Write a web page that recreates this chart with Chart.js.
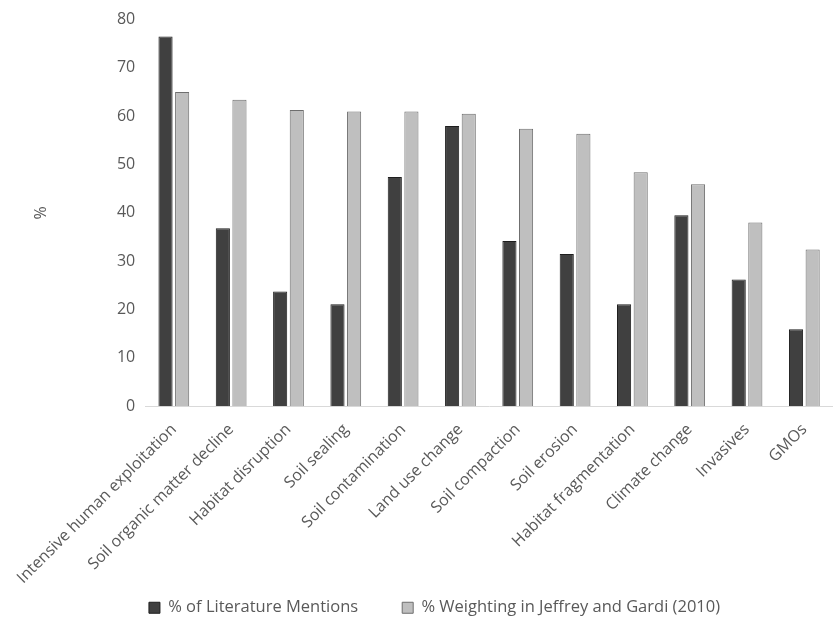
<!DOCTYPE html>
<html lang="en">
<head>
<meta charset="UTF-8">
<title>Soil threats</title>
<script src="https://cdn.jsdelivr.net/npm/chart.js"></script>
<style>
  body { margin: 0; background: #fff; }
  .wrap { width: 833px; height: 626px; }
</style>
</head>
<body>
<div class="wrap"><canvas id="myChart"></canvas></div>
<script>
  var categorias = ['Intensive human exploitation', 'Soil organic matter decline', 'Habitat disruption',
    'Soil sealing', 'Soil contamination', 'Land use change', 'Soil compaction', 'Soil erosion',
    'Habitat fragmentation', 'Climate change', 'Invasives', 'GMOs'];
  var mencoes = [76.5, 36.8, 23.7, 21.1, 47.4, 58.0, 34.2, 31.5, 21.1, 39.5, 26.2, 15.9];
  var pesos = [65.0, 63.4, 61.3, 61.0, 61.0, 60.5, 57.4, 56.4, 48.4, 45.9, 38.0, 32.4];
  var yTicks = [0, 10, 20, 30, 40, 50, 60, 70, 80];

  var cinza = '#595959';
  var fonte = '"Open Sans", "DejaVu Sans", sans-serif';
  var folgaLegenda = 46; // legend padding is wide, take back the extra height

  // legend keeps its wide horizontal gap but uses less vertical room
  const legendaCompacta = {
    id: 'legendaCompacta',
    beforeLayout: function (chart) {
      var lg = chart.legend;
      if (lg && !lg._compacta) {
        var fitOriginal = lg.fit;
        lg.fit = function () {
          fitOriginal.call(this);
          this.height -= folgaLegenda;
        };
        lg._compacta = true;
      }
    },
    afterLayout: function (chart) {
      // grow the box upward again so the text stays inside its clip
      chart.legend.top -= folgaLegenda;
      // centred a bit to the right, like the original
      chart.legend.left += 26;
    }
  };

  const data = {
    labels: categorias,
    datasets: [{
      label: '% of Literature Mentions',
      backgroundColor: '#404040',
      borderColor: '#1e1e1e',
      borderWidth: 1,
      data: mencoes,
      categoryPercentage: 0.58,
      barPercentage: 0.85
    }, {
      label: '% Weighting in Jeffrey and Gardi (2010)',
      backgroundColor: '#bfbfbf',
      borderColor: '#6e6e6e',
      borderWidth: 1,
      data: pesos,
      categoryPercentage: 0.58,
      barPercentage: 0.85
    }]
  };

  const options = {
    responsive: true,
    maintainAspectRatio: false,
    animation: false,
    layout: { padding: { top: 10, right: 0, left: 10, bottom: 0 } },
    plugins: {
      tooltip: { enabled: false },
      legend: {
        position: 'bottom',
        labels: {
          color: cinza,
          boxWidth: 11,
          boxHeight: 11,
          padding: 44,
          font: { size: 16.5, family: fonte }
        }
      }
    },
    scales: {
      x: {
        grid: { display: false, drawTicks: false },
        border: { color: '#d9d9d9' },
        ticks: {
          color: cinza,
          minRotation: 45,
          maxRotation: 45,
          padding: 14,
          font: { size: 16, family: fonte }
        }
      },
      y: {
        min: 0,
        max: 80,
        afterBuildTicks: function (scale) {
          scale.ticks = yTicks.map(function (v) { return { value: v }; });
        },
        afterFit: function (scale) { scale.width = 135; },
        grid: { display: false, drawTicks: false },
        border: { display: false },
        title: {
          display: true,
          text: '%',
          color: cinza,
          padding: { top: 22, bottom: 0 },
          font: { size: 16, family: fonte }
        },
        ticks: {
          color: cinza,
          padding: 10,
          font: { size: 16, family: fonte }
        }
      }
    }
  };

  const myChart = new Chart(document.getElementById('myChart'), {
    type: 'bar',
    data: data,
    options: options,
    plugins: [legendaCompacta]
  });
</script>
</body>
</html>
